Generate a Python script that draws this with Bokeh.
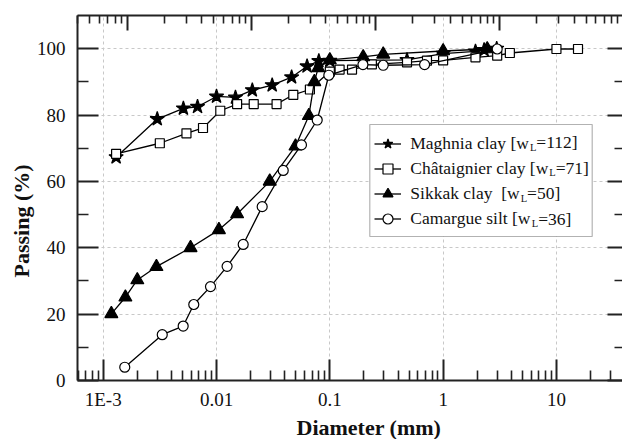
import math
from bokeh.plotting import figure
from bokeh.models import (Range1d, LogScale, LogAxis, LinearAxis, FixedTicker,
                          Legend, LegendItem, Label, Title, BoxAnnotation)
from bokeh.embed import file_html
from bokeh.resources import INLINE

# ---------------- data ----------------
maghnia_d = [0.0013, 0.0030, 0.0051, 0.0068, 0.0100, 0.0147, 0.0207, 0.031, 0.046,
             0.063, 0.080, 0.100, 0.48, 1.0, 1.93, 2.3, 2.97]
maghnia_p = [67.3, 78.8, 82.0, 82.5, 85.6, 85.3, 87.5, 89.0, 91.4,
             94.7, 96.3, 96.4, 96.6, 98.5, 99.2, 99.6, 100.0]

chat_d = [0.0013, 0.00316, 0.00543, 0.0076, 0.0108, 0.0152, 0.0213, 0.0339, 0.0476,
          0.0667, 0.100, 0.122, 0.157, 0.235, 0.48, 0.72, 1.0, 1.93, 3.0, 3.88, 10.0, 15.5]
chat_p = [68.3, 71.5, 74.5, 76.1, 81.3, 83.3, 83.3, 83.3, 86.1,
          87.7, 93.1, 93.7, 93.7, 95.3, 95.9, 96.4, 96.5, 97.4, 97.9, 98.7, 99.9, 99.9]

sikkak_d = [0.00118, 0.00157, 0.0020, 0.00295, 0.0059, 0.0105, 0.0152, 0.0295, 0.0498,
            0.0653, 0.0730, 0.0790, 0.100, 0.197, 0.296, 1.0, 2.45]
sikkak_p = [20.1, 25.1, 30.3, 34.3, 40.0, 45.4, 50.2, 60.0, 70.6,
            79.8, 90.0, 94.2, 96.6, 97.5, 98.3, 99.3, 99.9]

camargue_d = [0.00155, 0.00332, 0.00508, 0.0063, 0.00885, 0.0124, 0.0172, 0.0253, 0.0388,
              0.0562, 0.0774, 0.098, 0.196, 0.296, 0.686, 3.0]
camargue_p = [4.0, 13.8, 16.4, 22.9, 28.3, 34.4, 41.0, 52.4, 63.3,
              71.0, 78.5, 92.0, 95.2, 95.0, 95.2, 99.9]

x_ticks = [0.001, 0.01, 0.1, 1, 10]
x_tick_labels = ["1E-3", "0.01", "0.1", "1", "10"]
x_minor = [m * 10.0 ** e for e in range(-4, 2) for m in range(2, 10)]
y_ticks = [0, 20, 40, 60, 80, 100]
y_minor = [10, 30, 50, 70, 90]

legend_main = ["Maghnia clay [w", "Châtaignier clay [w", "Sikkak clay\u00a0 [w", "Camargue silt [w"]
legend_sub = ["L", "L", "L", "L"]
legend_tail = ["=112]", "=71]", "=50]", "=36]"]

x_title = "Diameter (mm)"
y_title = "Passing (%)"

FONT = "Liberation Serif"

# ---------------- figure ----------------
p = figure(width=622, height=439, x_axis_type="log",
           x_range=Range1d(10 ** -3.2268, 10 ** 1.583), y_range=Range1d(0, 110),
           output_backend="svg", toolbar_location=None,
           min_border_left=77, min_border_right=0, min_border_top=15, min_border_bottom=59)
p.outline_line_color = None
p.background_fill_color = "white"
p.extra_x_ranges = {"top": Range1d(10 ** -3.400, 10 ** 0.992)}
p.extra_x_scales = {"top": LogScale()}

AX_COL = "#222222"


def style_axis(ax, major_in, minor_in):
    ax.axis_line_color = AX_COL
    ax.axis_line_width = 2
    ax.major_tick_line_color = AX_COL
    ax.minor_tick_line_color = AX_COL
    ax.major_tick_line_width = 2
    ax.minor_tick_line_width = 1.6
    ax.major_tick_in = major_in
    ax.major_tick_out = 0
    ax.minor_tick_in = minor_in
    ax.minor_tick_out = 0
    ax.major_label_text_font = FONT
    ax.major_label_text_font_size = "19px"
    ax.major_label_text_color = "#111111"


xax = p.xaxis[0]
xax.ticker = FixedTicker(ticks=x_ticks, minor_ticks=x_minor)
xax.major_label_overrides = {t: l for t, l in zip(x_ticks, x_tick_labels)}
style_axis(xax, 21, 10)
xax.major_label_standoff = 8

yax = p.yaxis[0]
yax.ticker = FixedTicker(ticks=y_ticks, minor_ticks=y_minor)
style_axis(yax, 21, 11)
yax.major_label_standoff = 12

top = LogAxis(x_range_name="top", ticker=FixedTicker(ticks=x_ticks, minor_ticks=x_minor),
              major_label_overrides={t: "" for t in x_ticks})
style_axis(top, 15, 8)
top.major_label_standoff = 0
top.major_label_text_font_size = "0px"
p.add_layout(top, "above")

right = LinearAxis(ticker=FixedTicker(ticks=y_ticks, minor_ticks=y_minor),
                   major_label_overrides={t: "" for t in y_ticks})
style_axis(right, 15, 8)
right.axis_line_color = None
right.major_label_standoff = 0
right.major_label_text_font_size = "0px"
p.add_layout(right, "right")

for g in (p.xgrid[0], p.ygrid[0]):
    g.grid_line_color = "#c8c8c8"
    g.grid_line_dash = "3 3"
    g.grid_line_width = 1
p.xgrid[0].ticker = FixedTicker(ticks=x_ticks)
p.ygrid[0].ticker = FixedTicker(ticks=y_ticks)

# ---------------- axis titles ----------------
p.add_layout(Title(text=x_title, align="left", offset=219, standoff=0,
                   text_font=FONT, text_font_size="22px", text_font_style="bold",
                   text_color="#111111"), "below")
p.add_layout(Title(text=y_title, align="left", offset=103, standoff=0,
                   text_font=FONT, text_font_size="22px", text_font_style="bold",
                   text_color="#111111"), "left")

# ---------------- legend box (drawn under the data) ----------------
FRAME_L, FRAME_B = 77, 380
LEG_L, LEG_R, LEG_B, LEG_T = 369.3, 591.7, 236, 124
p.add_layout(BoxAnnotation(left=LEG_L - FRAME_L, right=LEG_R - FRAME_L,
                           bottom=FRAME_B - LEG_B, top=FRAME_B - LEG_T,
                           left_units="screen", right_units="screen",
                           bottom_units="screen", top_units="screen",
                           fill_color="white", fill_alpha=1.0,
                           line_color="black", line_width=1.2, level="underlay"))

# ---------------- series ----------------
series = [
    (maghnia_d, maghnia_p, "star", 15, "black"),
    (chat_d, chat_p, "square", 9, "white"),
    (sikkak_d, sikkak_p, "triangle", 13, "black"),
    (camargue_d, camargue_p, "circle", 10, "white"),
]
items = []
for i, (d, pp, mk, sz, fill) in enumerate(series):
    lr = p.line(d, pp, line_color="black", line_width=1.3)
    sr = p.scatter(d, pp, marker=mk, size=sz, fill_color=fill, line_color="black", line_width=1.2)
    items.append(LegendItem(label=legend_main[i], renderers=[lr, sr]))

# ---------------- legend ----------------
PAD, GW, GH, STANDOFF = 5, 27, 25.5, 9
LEG_FS = 17.5
legend = Legend(items=items, location=(LEG_L - FRAME_L, FRAME_B - LEG_B),
                glyph_width=GW, glyph_height=int(GH), label_height=int(GH), spacing=0,
                padding=PAD, margin=0, label_standoff=STANDOFF, label_width=176,
                label_text_font=FONT, label_text_font_size=f"{LEG_FS}px",
                label_text_color="#111111",
                border_line_alpha=0.0, background_fill_alpha=0.0)
p.add_layout(legend, "center")

# Times / Liberation Serif advance widths (1/1000 em) for the subscript placement
TW = {'M': 889, 'a': 444, 'g': 500, 'h': 500, 'n': 500, 'i': 278, ' ': 250, '\u00a0': 250,
      'c': 444, 'l': 278, 'y': 500, '[': 333, 'w': 722, 'C': 667, 'â': 444, 't': 278,
      'e': 444, 'r': 333, 'S': 556, 'k': 500, 'm': 778, 'u': 500, 's': 389, 'L': 611}


def tw(s, fs):
    return sum(TW.get(ch, 500) for ch in s) / 1000.0 * fs


text_x0 = LEG_L + PAD + GW + STANDOFF
SUB_FS = 10.5
for i in range(4):
    cy = LEG_T + PAD + GH / 2 + i * GH
    x1 = text_x0 + tw(legend_main[i], LEG_FS) + 0.5
    p.add_layout(Label(x=x1 - FRAME_L, y=FRAME_B - (cy + 5), x_units="screen", y_units="screen",
                       text=legend_sub[i], text_font=FONT, text_font_size=f"{SUB_FS}px",
                       text_baseline="middle", text_align="left", text_color="#111111"))
    x2 = x1 + tw(legend_sub[i], SUB_FS)
    p.add_layout(Label(x=x2 - FRAME_L, y=FRAME_B - cy, x_units="screen", y_units="screen",
                       text=legend_tail[i], text_font=FONT, text_font_size=f"{LEG_FS}px",
                       text_baseline="middle", text_align="left", text_color="#111111"))

open("out.html", "w").write(file_html(p, INLINE))
